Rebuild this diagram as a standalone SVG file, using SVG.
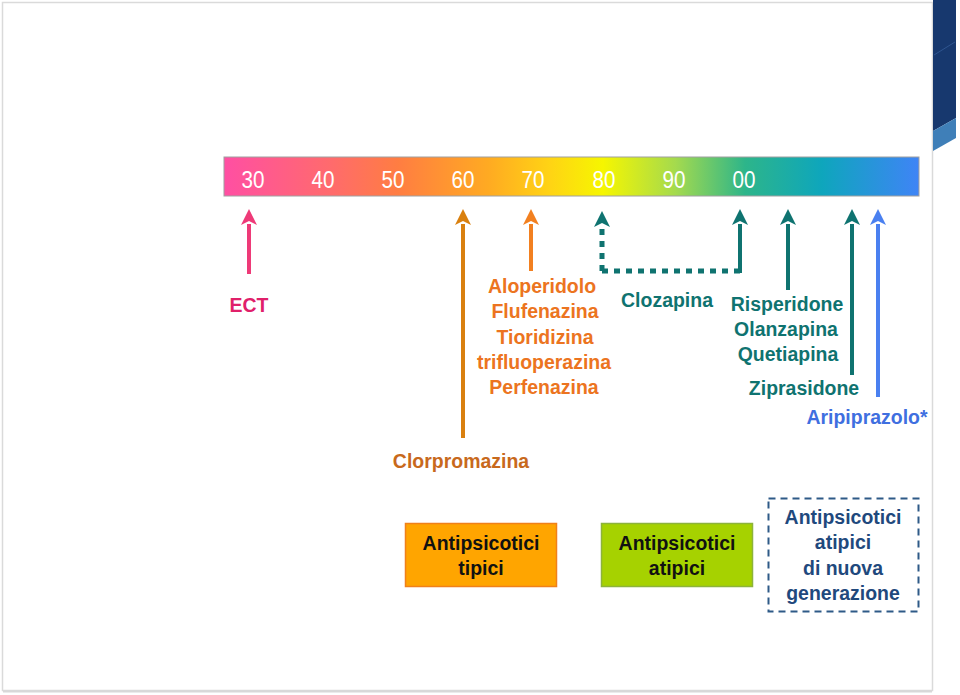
<svg xmlns="http://www.w3.org/2000/svg" width="960" height="695" viewBox="0 0 960 695">
<defs>
<linearGradient id="bar" x1="0" y1="0" x2="1" y2="0">
<stop offset="0" stop-color="#FF4FA3"/>
<stop offset="0.15" stop-color="#FF6A6E"/>
<stop offset="0.25" stop-color="#FF7D42"/>
<stop offset="0.38" stop-color="#FFAA22"/>
<stop offset="0.47" stop-color="#FFD414"/>
<stop offset="0.545" stop-color="#F6F600"/>
<stop offset="0.65" stop-color="#A4DA4E"/>
<stop offset="0.75" stop-color="#2DB58A"/>
<stop offset="0.86" stop-color="#0EA6BC"/>
<stop offset="1" stop-color="#3F84F6"/>
</linearGradient>
<marker id="hPink" markerUnits="userSpaceOnUse" markerWidth="18" markerHeight="18" viewBox="0 -9 18 18" refX="0" refY="0" orient="auto" overflow="visible"><path d="M-1,-8 L15,0 L-1,8 L3,0 z" fill="#EE3A78"/></marker>
<marker id="hDOr" markerUnits="userSpaceOnUse" markerWidth="18" markerHeight="18" viewBox="0 -9 18 18" refX="0" refY="0" orient="auto" overflow="visible"><path d="M-1,-8 L15,0 L-1,8 L3,0 z" fill="#D9800F"/></marker>
<marker id="hOr" markerUnits="userSpaceOnUse" markerWidth="18" markerHeight="18" viewBox="0 -9 18 18" refX="0" refY="0" orient="auto" overflow="visible"><path d="M-1,-8 L15,0 L-1,8 L3,0 z" fill="#F28020"/></marker>
<marker id="hTeal" markerUnits="userSpaceOnUse" markerWidth="18" markerHeight="18" viewBox="0 -9 18 18" refX="0" refY="0" orient="auto" overflow="visible"><path d="M-1,-8 L15,0 L-1,8 L3,0 z" fill="#0F7370"/></marker>
<marker id="hBlue" markerUnits="userSpaceOnUse" markerWidth="18" markerHeight="18" viewBox="0 -9 18 18" refX="0" refY="0" orient="auto" overflow="visible"><path d="M-1,-8 L15,0 L-1,8 L3,0 z" fill="#4A80F0"/></marker>
</defs>
<style>
text{font-family:"Liberation Sans",Arial,sans-serif;font-weight:bold;text-anchor:middle;font-size:20.5px}
.num{fill:#FFFFFF;font-weight:normal;font-size:24px}
.ar{fill:none;stroke-width:4}
.teal{fill:#0F7370}
.tealS{stroke:#0F7370}
.org{fill:#EC7420}
.blk{fill:#111111}
.navy{fill:#1F497D}
</style>
<rect x="2.5" y="2.5" width="930" height="688" fill="#FFFFFF" stroke="#DADADA" stroke-width="1.5"/>
<line x1="3" y1="691.5" x2="932" y2="691.5" stroke="#D8D8D8" stroke-width="2"/>
<g id="corner">
<polygon points="933,0 956,0 956,118 933,131" fill="#17386E"/>
<polygon points="933,131 956,118 956,138 933,151" fill="#3F7FB8"/>
<line x1="934" y1="55" x2="955" y2="42" stroke="#2E5590" stroke-width="1"/>
</g>
<g id="timeline">
<rect x="224" y="157" width="695" height="39" fill="url(#bar)" stroke="#A0A0A0" stroke-width="1"/>
<text class="num" transform="translate(253,188) scale(0.86,1)">30</text>
<text class="num" transform="translate(323,188) scale(0.86,1)">40</text>
<text class="num" transform="translate(393,188) scale(0.86,1)">50</text>
<text class="num" transform="translate(463,188) scale(0.86,1)">60</text>
<text class="num" transform="translate(533,188) scale(0.86,1)">70</text>
<text class="num" transform="translate(604,188) scale(0.86,1)">80</text>
<text class="num" transform="translate(674,188) scale(0.86,1)">90</text>
<text class="num" transform="translate(744,188) scale(0.86,1)">00</text>
</g>
<g id="connectors">
<line class="ar" x1="249" y1="274" x2="249" y2="224" stroke="#EE3A78" marker-end="url(#hPink)"/>
<line class="ar" x1="463" y1="438" x2="463" y2="224" stroke="#D9800F" marker-end="url(#hDOr)"/>
<line class="ar" x1="531" y1="271" x2="531" y2="224" stroke="#F28020" marker-end="url(#hOr)"/>
<path d="M740,271 H602" fill="none" stroke="#0F7370" stroke-width="5" stroke-dasharray="6 6"/>
<path d="M602,271 V226" fill="none" stroke="#0F7370" stroke-width="5" stroke-dasharray="6 6" marker-end="url(#hTeal)"/>
<line class="ar tealS" x1="740" y1="273" x2="740" y2="224" marker-end="url(#hTeal)"/>
<line class="ar tealS" x1="788" y1="290" x2="788" y2="224" marker-end="url(#hTeal)"/>
<line class="ar tealS" x1="852" y1="375" x2="852" y2="224" marker-end="url(#hTeal)"/>
<line class="ar" x1="878" y1="397" x2="878" y2="224" stroke="#4A80F0" marker-end="url(#hBlue)"/>
</g>
<g id="ect"><text transform="translate(249,312) scale(0.95,1)" fill="#E0206A">ECT</text></g>
<g id="tipici-list">
<text class="org" transform="translate(542,293) scale(0.95,1)">Aloperidolo</text>
<text class="org" transform="translate(545,318) scale(0.95,1)">Flufenazina</text>
<text class="org" transform="translate(545,344) scale(0.95,1)">Tioridizina</text>
<text class="org" transform="translate(544,369) scale(0.95,1)">trifluoperazina</text>
<text class="org" transform="translate(544,394) scale(0.95,1)">Perfenazina</text>
</g>
<g id="clorpromazina"><text transform="translate(461,468) scale(0.95,1)" fill="#C8691C">Clorpromazina</text></g>
<g id="clozapina"><text class="teal" transform="translate(667,307) scale(0.95,1)">Clozapina</text></g>
<g id="atipici-list">
<text class="teal" transform="translate(787,311) scale(0.95,1)">Risperidone</text>
<text class="teal" transform="translate(786,336) scale(0.95,1)">Olanzapina</text>
<text class="teal" transform="translate(788,361) scale(0.95,1)">Quetiapina</text>
</g>
<g id="ziprasidone"><text class="teal" transform="translate(804,395) scale(0.95,1)">Ziprasidone</text></g>
<g id="aripiprazolo"><text transform="translate(867,424) scale(0.95,1)" fill="#3F6FE0">Aripiprazolo*</text></g>
<g id="box-tipici">
<rect x="405.5" y="523.5" width="151" height="63" fill="#FFA500" stroke="#F0801A" stroke-width="1.5"/>
<text class="blk" transform="translate(481,550) scale(0.95,1)">Antipsicotici</text>
<text class="blk" transform="translate(481,575) scale(0.95,1)">tipici</text>
</g>
<g id="box-atipici">
<rect x="601.5" y="523.5" width="151" height="63" fill="#A6D200" stroke="#8DB33B" stroke-width="1.5"/>
<text class="blk" transform="translate(677,550) scale(0.95,1)">Antipsicotici</text>
<text class="blk" transform="translate(677,575) scale(0.95,1)">atipici</text>
</g>
<g id="box-nuova">
<rect x="768.5" y="498.5" width="150" height="113" fill="none" stroke="#2E5A87" stroke-width="2" stroke-dasharray="7 5"/>
<text class="navy" transform="translate(843,524) scale(0.95,1)">Antipsicotici</text>
<text class="navy" transform="translate(843,549) scale(0.95,1)">atipici</text>
<text class="navy" transform="translate(843,575) scale(0.95,1)">di nuova</text>
<text class="navy" transform="translate(843,600) scale(0.95,1)">generazione</text>
</g>
</svg>
